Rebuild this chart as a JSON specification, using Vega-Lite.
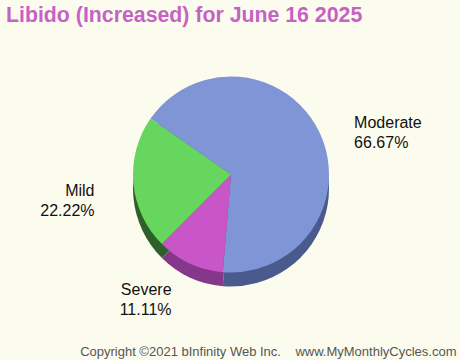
{
  "$schema": "https://vega.github.io/schema/vega-lite/v6.json",
  "autosize": {"type": "fit", "contains": "padding"},
  "width": 460,
  "height": 360,
  "background": "#fcfcee",
  "padding": {"left": 6, "top": 4, "right": 4, "bottom": 2},
  "title": {
    "text": "Libido (Increased) for June 16 2025",
    "anchor": "start",
    "font": "Liberation Sans",
    "fontSize": 21.3,
    "fontWeight": "bold",
    "color": "#c563c5",
    "offset": 8
  },
  "data": {
    "values": [
      {"cat": "Moderate", "share": 0.6667, "idx": 1},
      {"cat": "Severe", "share": 0.1111, "idx": 2},
      {"cat": "Mild", "share": 0.2222, "idx": 3}
    ]
  },
  "encoding": {
    "theta": {"field": "share", "type": "quantitative", "stack": true, "scale": {"range": [5.32, 11.603]}},
    "order": {"field": "idx", "type": "quantitative"},
    "x": {
      "datum": "c",
      "type": "nominal",
      "scale": {"type": "point"},
      "axis": {
        "title": "Copyright ©2021 bInfinity Web Inc.\u00a0\u00a0\u00a0 www.MyMonthlyCycles.com",
        "labels": false,
        "ticks": false,
        "domain": false,
        "grid": false,
        "titleAnchor": "end",
        "titleFont": "Liberation Sans",
        "titleFontSize": 13,
        "titleFontWeight": "normal",
        "titleColor": "#555555",
        "titlePadding": 30
      }
    }
  },
  "layer": [
    {
      "mark": {"type": "arc", "radius": 98, "yOffset": 14},
      "encoding": {
        "color": {
          "field": "cat",
          "type": "nominal",
          "legend": null,
          "scale": {"domain": ["Moderate", "Severe", "Mild"], "range": ["#4b5a8c", "#85388a", "#2f602b"]}
        }
      }
    },
    {
      "mark": {"type": "arc", "radius": 98},
      "encoding": {
        "color": {
          "field": "cat",
          "type": "nominal",
          "legend": null,
          "scale": {"domain": ["Moderate", "Severe", "Mild"], "range": ["#7f95d6", "#c956c9", "#66d65e"]}
        }
      }
    },
    {
      "mark": {
        "type": "text",
        "radius": 125,
        "font": "Liberation Sans",
        "fontSize": 16,
        "color": "#111111",
        "baseline": "middle",
        "align": {"expr": "datum.cat === 'Moderate' ? 'left' : 'right'"},
        "dx": {"expr": "datum.cat === 'Moderate' ? 10 : datum.cat === 'Mild' ? -12 : -7"},
        "dy": {"expr": "datum.cat === 'Mild' ? 5 : 2"}
      },
      "encoding": {"text": {"field": "cat", "type": "nominal"}}
    },
    {
      "mark": {
        "type": "text",
        "radius": 125,
        "font": "Liberation Sans",
        "fontSize": 16,
        "color": "#111111",
        "baseline": "middle",
        "align": {"expr": "datum.cat === 'Moderate' ? 'left' : 'right'"},
        "dx": {"expr": "datum.cat === 'Moderate' ? 10 : datum.cat === 'Mild' ? -12 : -7"},
        "dy": {"expr": "datum.cat === 'Mild' ? 25 : 22"}
      },
      "encoding": {"text": {"field": "share", "type": "quantitative", "format": ".2%"}}
    }
  ],
  "resolve": {"scale": {"color": "independent"}},
  "config": {"view": {"stroke": null}}
}
